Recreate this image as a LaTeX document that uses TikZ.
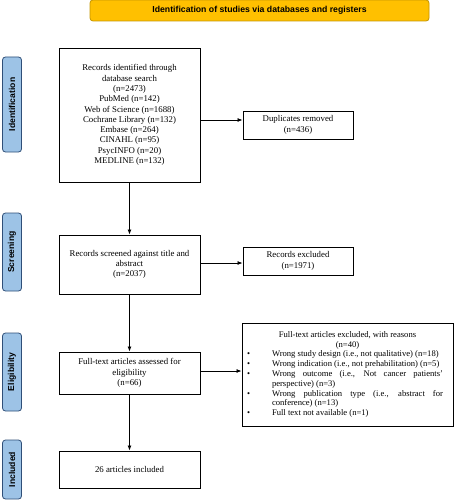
\documentclass[tikz,border=0pt]{standalone}
\usepackage{fontspec}
\setmainfont{Liberation Serif}
\newfontfamily\lblfont{Liberation Sans}
\usepackage{enumitem}
\usetikzlibrary{arrows.meta}
\definecolor{bannerfill}{HTML}{FFC000}
\definecolor{bannerdraw}{HTML}{C49500}
\definecolor{sidefill}{HTML}{9DC3E6}
\definecolor{sidedraw}{HTML}{2F4F78}
\tikzset{
  banner/.style={draw=bannerdraw, fill=bannerfill, rounded corners=3pt, line width=0.8pt,
    minimum width=339pt, minimum height=21pt, inner sep=0pt,
    font=\lblfont\bfseries\fontsize{8.7}{10}\selectfont},
  side/.style={draw=sidedraw, fill=sidefill, rounded corners=3pt, line width=0.8pt,
    rotate=90, minimum height=19pt, inner sep=0pt,
    font=\lblfont\bfseries\fontsize{8.6}{10}\selectfont},
  box/.style={draw, line width=0.9pt, inner sep=0pt, align=center,
    font=\fontsize{8.8}{10.3}\selectfont},
  arr/.style={line width=0.8pt, -{Latex[length=5pt,width=4pt]}}
}
\begin{document}
\begin{tikzpicture}[x=1pt,y=-1pt]
\useasboundingbox (0,0) rectangle (455,500);
\node[banner] (ban) at (259.5,10.5) {Identification of studies via databases and registers};
\node[side, minimum width=95pt] (sid) at (12,104.5) {Identification};
\node[side, minimum width=78pt] (sscr) at (12,252) {Screening};
\node[side, minimum width=78pt] (sel) at (12,372) {Eligibility};
\node[side, minimum width=59pt] (sinc) at (12,469.5) {Included};

\node[box, minimum width=141pt, minimum height=134pt] (b1) at (129.5,115)
  {Records identified through\\database search\\(n=2473)\\PubMed (n=142)\\Web of Science (n=1688)\\Cochrane Library (n=132)\\Embase (n=264)\\CINAHL (n=95)\\PsycINFO (n=20)\\MEDLINE (n=132)};
\node[box, minimum width=110pt, minimum height=28pt] (dup) at (298,125)
  {Duplicates removed\\(n=436)};
\node[box, minimum width=141pt, minimum height=59pt] (b2) at (129.5,264.5)
  {Records screened against title and\\abstract\\(n=2037)};
\node[box, minimum width=110pt, minimum height=28pt] (exc) at (298,261)
  {Records excluded\\(n=1971)};
\node[box, minimum width=141pt, minimum height=42pt] (b3) at (129.5,373)
  {Full-text articles assessed for\\eligibility\\(n=66)};
\node[draw, line width=0.9pt, minimum width=211pt, minimum height=103pt, inner xsep=5pt, inner ysep=0pt,
  text width=201pt, align=justify, font=\fontsize{8.6}{9.8}\selectfont] (rea) at (347.5,374.5)
  {\hyphenpenalty=10000\exhyphenpenalty=10000
   {\centering Full-text articles excluded, with reasons\\(n=40)\par}
   \begin{itemize}[leftmargin=25pt, rightmargin=5pt, labelwidth=20pt, labelsep=5pt, align=left, itemsep=0pt, topsep=0pt, parsep=0pt, partopsep=0pt]
   \item Wrong study design (i.e., not qualitative) (n=18)
   \item Wrong indication (i.e., not prehabilitation) (n=5)
   \item Wrong outcome (i.e., Not cancer patients' perspective) (n=3)
   \item Wrong publication type (i.e., abstract for conference) (n=13)
   \item Full text not available (n=1)
   \end{itemize}};
\node[box, minimum width=141pt, minimum height=37pt] (b4) at (129.5,469.5)
  {26 articles included};

\draw[arr] (b1) -- (b2);
\draw[arr] (b2) -- (b3);
\draw[arr] (b3) -- (b4);
\draw[arr] (b1.east |- 0,120) -- (dup.west |- 0,120);
\draw[arr] (b2.east |- 0,263) -- (exc.west |- 0,263);
\draw[arr] (b3.east |- 0,371) -- (rea.west |- 0,371);
\end{tikzpicture}
\end{document}
